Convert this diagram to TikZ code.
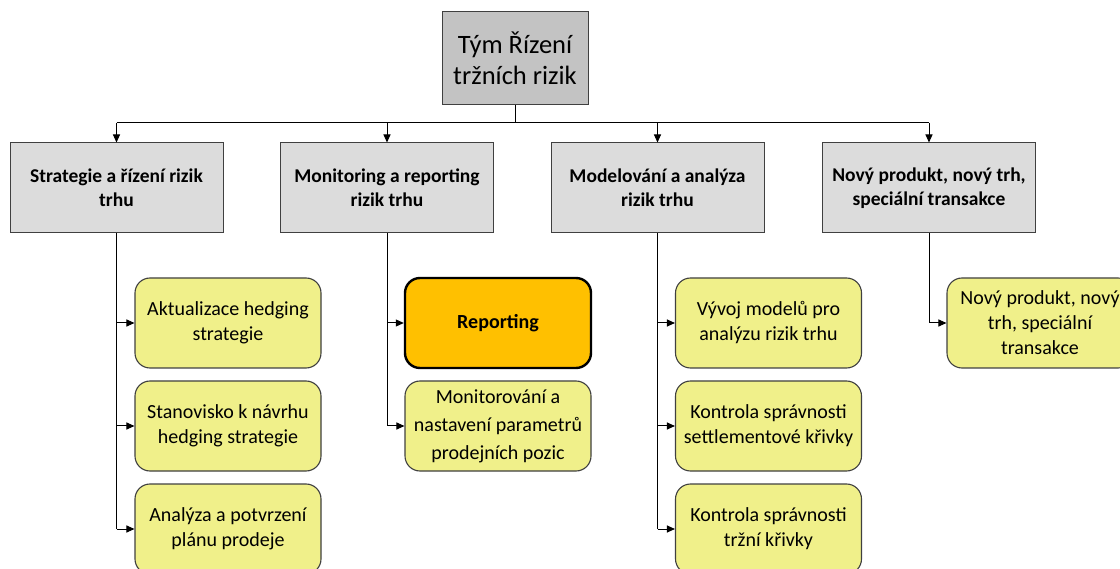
\documentclass[tikz,border=0pt]{standalone}
\usepackage{fontspec}
\setmainfont{Carlito}
\usetikzlibrary{arrows.meta}
\definecolor{topgray}{HTML}{C3C3C3}
\definecolor{lvgray}{HTML}{DCDCDC}
\definecolor{childyel}{HTML}{F0F08A}
\definecolor{repor}{HTML}{FFC000}
\definecolor{edgegray}{HTML}{404040}
\tikzset{
  topbox/.style={draw=edgegray, line width=1pt, fill=topgray, minimum width=146pt, minimum height=93pt, align=center, font=\fontsize{26.5}{31}\selectfont, inner sep=2pt},
  lvbox/.style={draw=edgegray, line width=1pt, fill=lvgray, minimum width=213pt, minimum height=90pt, align=center, font=\fontsize{19.5}{24}\selectfont\bfseries, inner sep=2pt},
  childbox/.style={draw=edgegray, line width=1.1pt, fill=childyel, rounded corners=15pt, minimum width=186pt, minimum height=90pt, align=center, font=\fontsize{20}{25}\selectfont, inner sep=2pt},
  repbox/.style={childbox, draw=black, line width=2.4pt, fill=repor, font=\fontsize{20}{25}\selectfont\bfseries},
  conn/.style={line width=1pt, black},
  arr/.style={conn, -{Triangle[length=8pt,width=7pt]}}
}
\begin{document}
\begin{tikzpicture}[x=1pt,y=-1pt]
\useasboundingbox (0,0) rectangle (1120,569);
\node[topbox] (top) at (515,58.5) {Tým Řízení\\tržních rizik};
\node[lvbox] (s1) at (116.5,188) {Strategie a řízení rizik\\trhu};
\node[lvbox] (s2) at (387,188) {Monitoring a reporting\\rizik trhu};
\node[lvbox] (s3) at (657.5,188) {Modelování a analýza\\rizik trhu};
\node[lvbox] (s4) at (929,188) {Nový produkt, nový trh,\\speciální transakce};

\node[childbox] (c11) at (228,323) {Aktualizace hedging\\strategie};
\node[childbox] (c12) at (228,426) {Stanovisko k návrhu\\hedging strategie};
\node[childbox] (c13) at (228,529) {Analýza a potvrzení\\plánu prodeje};
\node[repbox] (c21) at (498,323) {Reporting};
\node[childbox, font=\fontsize{20}{28}\selectfont] (c22) at (498,426) {Monitorování a\\nastavení parametrů\\prodejních pozic};
\node[childbox] (c31) at (768.5,323) {Vývoj modelů pro\\analýzu rizik trhu};
\node[childbox] (c32) at (768.5,426) {Kontrola správnosti\\settlementové křivky};
\node[childbox] (c33) at (768.5,529) {Kontrola správnosti\\tržní křivky};
\node[childbox] (c41) at (1040,323) {Nový produkt, nový\\trh, speciální\\transakce};

\coordinate (bus) at (515,123);
\draw[conn] (top.south) -- (bus);
\draw[conn] (s1.north |- bus) -- (s4.north |- bus);
\foreach \s in {s1,s2,s3,s4} \draw[arr] (\s.north |- bus) -- (\s.north);

\draw[conn] (s1.south) -- (s1.south |- c13.west);
\foreach \c in {c11,c12,c13} \draw[arr] (s1.south |- \c.west) -- (\c.west);
\draw[conn] (s2.south) -- (s2.south |- c22.west);
\foreach \c in {c21,c22} \draw[arr] (s2.south |- \c.west) -- (\c.west);
\draw[conn] (s3.south) -- (s3.south |- c33.west);
\foreach \c in {c31,c32,c33} \draw[arr] (s3.south |- \c.west) -- (\c.west);
\draw[conn] (s4.south) -- (s4.south |- c41.west);
\draw[arr] (s4.south |- c41.west) -- (c41.west);
\end{tikzpicture}
\end{document}
